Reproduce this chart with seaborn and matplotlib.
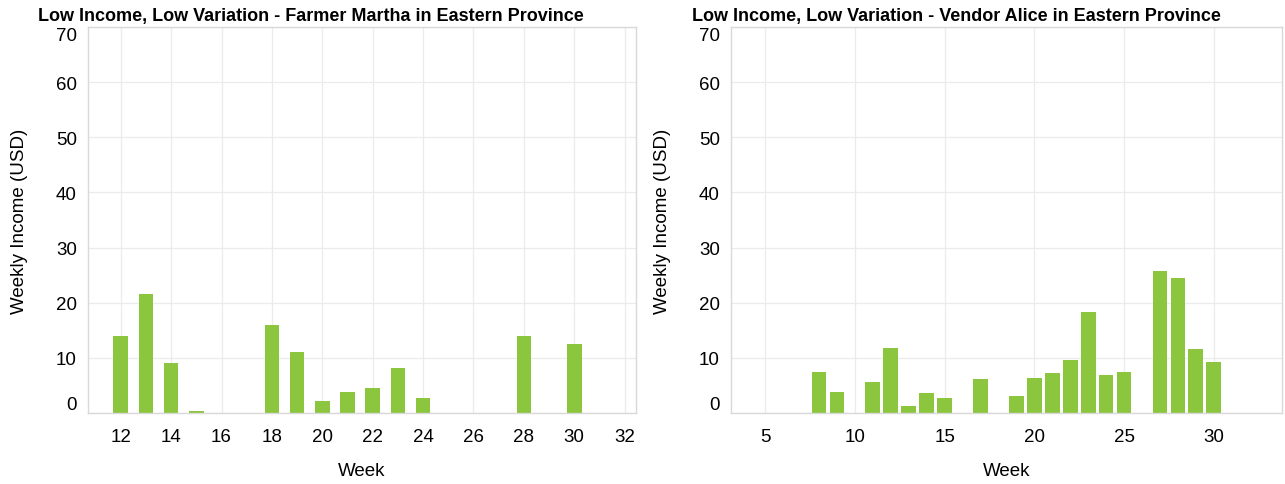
import matplotlib
matplotlib.use("Agg")
import matplotlib.pyplot as plt
import seaborn as sns
import pandas as pd

# Data
martha_weeks = [12, 13, 14, 15, 18, 19, 20, 21, 22, 23, 24, 28, 30]
martha_income = [14.0, 21.5, 9.0, 0.4, 15.9, 11.0, 2.2, 3.8, 4.5, 8.1, 2.7, 13.9, 12.5]
alice_weeks = [8, 9, 11, 12, 13, 14, 15, 17, 19, 20, 21, 22, 23, 24, 25, 27, 28, 29, 30]
alice_income = [7.4, 3.8, 5.6, 11.7, 1.3, 3.6, 2.7, 6.1, 3.1, 6.3, 7.2, 9.6, 18.4, 6.9, 7.4,
                25.7, 24.4, 11.6, 9.2]
titles = ["Low Income, Low Variation - Farmer Martha in Eastern Province",
          "Low Income, Low Variation - Vendor Alice in Eastern Province"]
y_ticks = [0, 10, 20, 30, 40, 50, 60, 70]
left_xticks = [12, 14, 16, 18, 20, 22, 24, 26, 28, 30, 32]
right_xticks = [5, 10, 15, 20, 25, 30]

sns.set_theme(style="white")
plt.rcParams['font.family'] = ['Liberation Sans', 'DejaVu Sans']
plt.rcParams['text.color'] = 'black'
plt.rcParams['axes.labelcolor'] = 'black'
plt.rcParams['xtick.color'] = 'black'
plt.rcParams['ytick.color'] = 'black'

BAR = '#8cc63f'
GRID = '#ebebeb'
SPINE = '#d9d9d9'

fig = plt.figure(figsize=(12.85, 4.85), dpi=100)
W, H = 1285, 485
ax1 = fig.add_axes([88 / W, 1 - 414 / H, (636 - 88) / W, (414 - 28) / H])
ax2 = fig.add_axes([731 / W, 1 - 414 / H, (1282 - 731) / W, (414 - 28) / H])

panels = [
    (ax1, martha_weeks, martha_income, left_xticks, (10.7, 32.45), 0.58, 38, titles[0]),
    (ax2, alice_weeks, alice_income, right_xticks, (3.1, 33.8), 0.82, 692, titles[1]),
]

for ax, weeks, inc, xt, xl, bw, tx, ttl in panels:
    df = pd.DataFrame({"Week": weeks, "Income": inc})
    sns.barplot(data=df, x="Week", y="Income", native_scale=True, color=BAR,
                saturation=1, errorbar=None, width=bw, ax=ax, linewidth=0)
    ax.set_xlim(*xl)
    ax.set_ylim(0, 70)
    ax.set_xticks(xt)
    ax.set_xticklabels([str(t) for t in xt], fontsize=13.5)
    ax.set_yticks(y_ticks)
    ax.set_yticklabels([str(t) for t in y_ticks], fontsize=13.5)
    for lab in ax.get_yticklabels():
        if lab.get_text() == '70':
            lab.set_va('top')
        elif lab.get_text() == '0':
            lab.set_va('bottom')
    ax.tick_params(axis='both', length=5, width=1, color=SPINE, pad=3,
                   labelcolor='black')
    ax.tick_params(axis='x', pad=6)
    ax.grid(True, color=GRID, linewidth=0.9)
    ax.set_axisbelow(True)
    for s in ax.spines.values():
        s.set_color(SPINE)
        s.set_linewidth(1.0)
    ax.set_xlabel("Week", fontsize=13.5, labelpad=12)
    ax.set_ylabel("Weekly Income (USD)", fontsize=13.5, labelpad=20)
    fig.text(tx / W, 1 - 16 / H, ttl, fontsize=13, fontweight='bold',
             ha='left', va='center', color='black')

fig.savefig("out.png", dpi=100)
